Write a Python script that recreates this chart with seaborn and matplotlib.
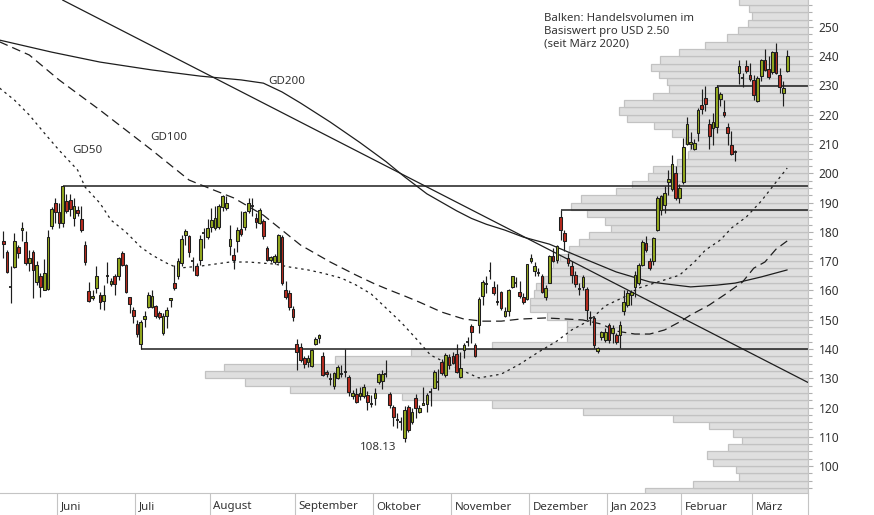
import numpy as np
import pandas as pd
import seaborn as sns
import matplotlib
matplotlib.use("Agg")
import matplotlib.pyplot as plt
import matplotlib.transforms as mtransforms

# trading days shown: 10 May 2022 .. 14 Mar 2023 (US exchange holidays removed)
holidays = ["2022-05-30", "2022-06-20", "2022-07-04", "2022-09-05", "2022-11-24",
            "2022-12-26", "2023-01-02", "2023-01-16", "2023-02-20"]
dates = pd.bdate_range("2022-05-10", "2023-03-14")
dates = dates[~dates.isin(pd.to_datetime(holidays))]

month_names = ["Juni", "Juli", "August", "September", "Oktober", "November",
               "Dezember", "Jan 2023", "Februar", "März"]

open_px = [
    176.8, 173.1, 161.3, 168.0, 174.8, 180.5, 176.5, 169.3, 173.2, 162.8,
    165.0, 160.2, 160.4, 181.9, 189.7, 186.9, 183.0, 190.6, 191.0, 184.7,
    187.5, 184.4, 175.5, 159.7, 157.4, 160.8, 158.4, 156.4, 165.0, 162.1,
    164.8, 164.8, 172.8, 168.7, 157.7, 153.4, 148.4, 141.6, 150.2, 154.5,
    154.2, 154.8, 152.2, 145.6, 151.1, 156.8, 162.5, 164.8, 169.3, 178.8,
    178.7, 170.1, 168.5, 170.3, 179.6, 178.2, 181.6, 181.3, 181.6, 188.5,
    188.2, 175.0, 172.1, 176.8, 181.0, 181.7, 187.0, 188.7, 184.7, 183.0,
    183.8, 174.5, 170.3, 169.8, 169.8, 178.4, 160.0, 159.1, 153.6, 141.7,
    140.8, 136.8, 135.4, 134.3, 141.7, 143.7, 137.6, 132.2, 129.6, 127.3,
    130.0, 131.3, 132.2, 130.5, 124.0, 124.6, 123.9, 123.9, 124.2, 121.1,
    123.3, 128.6, 129.0, 131.4, 124.6, 120.3, 115.7, 115.1, 109.7, 120.3,
    115.1, 123.1, 118.5, 120.8, 121.1, 125.4, 126.8, 128.6, 135.7, 131.1,
    137.4, 137.7, 138.3, 130.3, 139.7, 142.5, 147.9, 141.4, 148.2, 158.2,
    162.3, 166.8, 161.1, 156.2, 159.4, 151.3, 153.0, 161.0, 162.5, 159.6,
    157.9, 157.0, 169.9, 166.5, 166.1, 165.0, 157.7, 162.7, 171.6, 170.3,
    185.1, 179.6, 171.1, 168.2, 165.3, 160.4, 161.1, 160.5, 150.5, 150.5,
    139.3, 144.0, 143.1, 148.2, 145.4, 144.8, 144.8, 152.8, 155.1, 158.5,
    161.1, 162.5, 168.8, 176.2, 169.9, 170.1, 180.8, 187.6, 189.3, 197.1,
    194.5, 200.2, 191.6, 197.0, 210.1, 210.1, 208.2, 213.9, 223.3, 225.8,
    216.7, 215.6, 215.8, 225.5, 221.1, 215.9, 209.6, 207.2, 234.4, 232.6,
    236.5, 233.5, 231.8, 224.7, 233.3, 238.6, 235.8, 234.6, 241.6, 233.6,
    227.6, 235.0]
high_px = [
    180.2, 173.9, 168.2, 179.6, 175.6, 183.4, 180.2, 173.9, 173.9, 169.9,
    165.9, 170.8, 180.8, 188.5, 191.6, 189.9, 195.8, 193.1, 193.1, 191.6,
    189.0, 188.7, 176.8, 162.9, 160.2, 168.3, 159.6, 161.9, 169.6, 164.2,
    165.6, 171.4, 173.6, 169.0, 157.9, 154.5, 149.9, 149.9, 152.8, 159.3,
    160.2, 155.1, 152.8, 152.2, 154.3, 157.4, 168.8, 171.1, 179.0, 181.1,
    179.0, 171.3, 169.3, 179.0, 181.3, 184.4, 188.2, 189.0, 189.5, 192.7,
    192.2, 182.2, 174.5, 181.6, 187.0, 187.0, 191.4, 191.4, 186.5, 188.2,
    184.4, 175.0, 171.8, 172.5, 179.4, 179.0, 163.1, 160.2, 154.7, 143.3,
    142.2, 137.6, 137.9, 140.0, 144.2, 145.1, 139.1, 132.8, 131.7, 132.2,
    134.5, 134.5, 140.0, 131.1, 126.0, 126.5, 127.1, 128.2, 125.7, 124.2,
    126.5, 131.9, 132.8, 136.2, 125.4, 120.8, 118.0, 116.8, 120.5, 120.8,
    119.7, 124.5, 120.8, 127.1, 124.8, 126.5, 132.8, 133.2, 136.5, 138.7,
    138.3, 138.9, 141.7, 139.1, 142.2, 144.2, 148.6, 141.9, 157.6, 163.6,
    164.8, 169.7, 163.3, 162.3, 159.9, 154.3, 160.4, 165.0, 164.5, 163.3,
    159.1, 169.1, 172.4, 169.6, 167.6, 165.7, 161.9, 172.2, 174.5, 175.6,
    187.4, 180.8, 172.8, 169.9, 166.5, 162.5, 165.3, 161.1, 152.8, 151.1,
    140.8, 146.2, 147.1, 148.8, 148.2, 145.4, 149.7, 160.2, 160.0, 160.2,
    166.5, 169.3, 177.3, 178.5, 171.1, 178.2, 192.2, 192.7, 195.6, 201.3,
    206.1, 202.4, 196.2, 212.1, 219.3, 214.1, 211.6, 222.4, 228.9, 229.8,
    218.4, 220.7, 230.1, 227.8, 225.0, 217.1, 214.4, 207.9, 238.6, 234.4,
    238.6, 237.8, 233.5, 233.3, 239.2, 242.4, 240.1, 241.8, 244.5, 236.1,
    231.6, 242.1]
low_px = [
    171.1, 165.9, 155.6, 167.6, 171.1, 176.8, 168.8, 166.5, 157.4, 161.9,
    157.7, 160.0, 160.2, 181.0, 183.0, 181.3, 181.7, 186.5, 185.3, 181.9,
    185.5, 179.8, 168.8, 155.9, 156.6, 159.1, 153.6, 153.4, 162.5, 161.6,
    158.5, 163.6, 168.2, 159.1, 152.2, 148.8, 144.2, 140.0, 147.6, 153.9,
    153.9, 150.5, 150.2, 144.8, 147.1, 154.3, 160.2, 163.9, 168.2, 175.6,
    171.4, 166.5, 164.8, 168.8, 174.5, 177.6, 179.8, 180.8, 181.0, 187.0,
    187.4, 172.2, 167.3, 173.0, 178.7, 180.8, 186.5, 185.3, 181.3, 182.7,
    177.6, 169.9, 169.6, 169.0, 169.5, 161.9, 157.0, 153.4, 149.4, 132.8,
    135.7, 133.4, 134.0, 134.0, 141.4, 141.9, 130.8, 130.5, 127.7, 126.2,
    129.6, 130.4, 130.5, 123.9, 122.8, 121.7, 122.5, 123.4, 119.3, 120.2,
    120.9, 128.2, 126.2, 130.5, 120.0, 113.6, 113.0, 112.3, 108.13, 111.7,
    114.5, 116.3, 118.0, 120.8, 118.5, 120.5, 126.5, 126.0, 131.1, 130.5,
    133.0, 134.9, 131.7, 130.0, 136.8, 141.1, 141.9, 137.4, 145.4, 155.1,
    159.1, 163.9, 158.5, 155.1, 153.4, 150.8, 151.1, 160.7, 161.3, 157.4,
    155.4, 156.6, 169.3, 164.8, 164.8, 159.1, 156.8, 162.5, 169.6, 169.3,
    177.3, 173.3, 168.2, 162.5, 161.3, 158.5, 160.2, 149.9, 148.2, 140.2,
    138.7, 143.1, 142.5, 141.9, 141.9, 141.7, 140.2, 151.6, 154.5, 155.1,
    157.9, 161.9, 168.2, 173.0, 167.1, 168.8, 180.2, 185.9, 186.5, 192.7,
    193.9, 191.0, 189.7, 196.2, 209.5, 208.2, 207.9, 211.0, 220.1, 221.3,
    208.2, 209.6, 213.9, 223.0, 219.3, 209.6, 206.1, 204.2, 230.4, 229.6,
    234.4, 231.6, 225.0, 224.4, 231.6, 235.0, 232.1, 233.8, 233.8, 227.3,
    223.0, 234.6]
close_px = [
    176.0, 166.3, 161.3, 177.0, 172.8, 181.3, 169.3, 171.1, 167.1, 168.7,
    161.3, 166.1, 178.2, 187.8, 186.7, 183.0, 195.8, 187.0, 187.9, 188.7,
    186.5, 180.5, 169.7, 156.4, 158.2, 164.9, 156.0, 158.4, 165.0, 163.3,
    162.1, 171.1, 168.8, 159.6, 155.3, 151.4, 145.0, 149.1, 151.1, 158.5,
    158.2, 151.4, 150.8, 151.3, 153.2, 157.4, 160.8, 169.9, 177.6, 180.4,
    173.0, 170.1, 165.1, 177.6, 179.6, 181.3, 184.2, 184.7, 188.7, 192.2,
    189.7, 177.6, 170.5, 180.8, 179.3, 186.8, 189.9, 188.7, 183.3, 187.6,
    178.5, 170.5, 171.4, 171.8, 179.0, 162.6, 157.9, 154.5, 150.8, 139.1,
    136.2, 134.7, 137.0, 139.7, 143.4, 144.8, 131.1, 131.3, 129.6, 131.7,
    133.7, 131.3, 132.2, 125.4, 125.0, 122.0, 125.0, 127.1, 122.0, 121.1,
    124.8, 131.4, 131.4, 131.4, 120.8, 116.8, 115.7, 115.1, 119.3, 112.3,
    118.3, 119.7, 120.0, 121.4, 124.2, 125.4, 132.2, 128.6, 131.7, 137.9,
    134.5, 135.3, 132.0, 133.6, 141.4, 142.5, 145.9, 137.7, 157.1, 162.8,
    162.3, 166.8, 159.1, 156.2, 153.9, 153.0, 160.2, 164.8, 162.5, 158.2,
    156.2, 168.9, 171.1, 168.4, 166.1, 159.6, 160.8, 171.6, 169.9, 175.0,
    180.8, 176.8, 169.3, 165.3, 162.3, 160.4, 164.5, 153.4, 150.5, 141.4,
    140.2, 145.7, 145.9, 143.1, 147.1, 142.5, 148.2, 156.2, 159.1, 159.6,
    165.3, 168.8, 176.5, 173.7, 167.6, 177.9, 191.6, 192.2, 193.3, 197.9,
    203.2, 191.6, 195.0, 209.1, 216.9, 210.7, 210.4, 221.5, 221.8, 223.6,
    212.7, 217.6, 229.5, 227.0, 219.9, 213.9, 206.7, 207.2, 236.5, 232.6,
    235.0, 232.1, 226.8, 232.7, 238.6, 235.3, 233.0, 241.6, 234.4, 229.6,
    229.3, 240.1]

# moving averages at sample days
gd50_day = [-1, 3, 7, 11, 15, 20, 22, 26, 29, 33, 37, 40, 44, 47, 53, 61, 66, 73, 77, 82,
            86, 91, 95, 99, 103, 107, 111, 115, 120, 125, 128, 134, 139, 144, 149, 153, 158,
            162, 167, 171, 177, 182, 186, 189, 193, 196, 200, 204, 208, 211]
gd50_val = [229.1, 225.0, 219.9, 213.8, 207.9, 201.1, 195.3, 189.8, 184.0, 179.9,
            174.8, 172.1, 169.3, 167.6, 168.3, 169.7, 169.7, 169.0, 168.0, 167.0,
            165.9, 164.2, 161.8, 158.8, 154.0, 149.2, 143.7, 137.9, 134.8, 131.8,
            130.1, 131.4, 134.8, 138.9, 142.7, 146.5, 149.9, 154.7, 157.7, 160.8,
            163.2, 165.2, 169.7, 173.8, 177.2, 181.3, 185.1, 190.5, 197.0, 201.8]
gd100_day = [-1, 7, 15, 26, 40, 50, 56, 62, 70, 75, 80, 88, 95, 100, 104, 108, 112, 118,
             124, 129, 134, 139, 146, 152, 156, 161, 165, 170, 174, 178, 182, 185, 190,
             194, 199, 202, 205, 208, 211]
gd100_val = [244.9, 240.4, 231.9, 221.6, 207.9, 197.7, 194.6, 191.6, 185.7, 180.6,
             175.5, 169.7, 165.2, 162.2, 160.1, 158.1, 156.0, 152.6, 150.2, 149.5,
             149.5, 150.2, 150.6, 150.2, 149.9, 148.5, 146.1, 145.1, 145.1, 146.5,
             149.2, 151.6, 155.0, 158.4, 162.9, 167.6, 169.7, 174.1, 176.9]
gd200_day = [-1, 13, 26, 40, 53, 64, 70, 75, 80, 88, 96, 103, 108, 114, 122, 126, 130,
             135, 140, 147, 156, 165, 174, 181, 185, 192, 197, 204, 211]
gd200_val = [245.5, 241.4, 238.0, 235.3, 233.2, 231.9, 230.8, 227.8, 224.0, 217.5,
             210.5, 204.0, 198.8, 193.0, 187.2, 184.6, 182.6, 180.6, 178.2, 175.8,
             171.0, 166.3, 162.9, 161.8, 161.2, 161.8, 162.5, 164.6, 167.0]

# falling trend line (two anchor points) and horizontal marks (day, level)
trend_day = [17, 211]
trend_val = [258.5, 132.2]
level_day = [16, 150, 37, 192]
level_val = [195.8, 187.4, 140.0, 229.9]

# volume profile, one bar per USD 2.50 (bar starts at price)
vol_price = [90.0, 92.5, 95.0, 97.5, 100.0, 102.5, 105.0, 107.5, 110.0, 112.5,
             115.0, 117.5, 120.0, 122.5, 125.0, 127.5, 130.0, 132.5, 135.0, 137.5,
             140.0, 142.5, 145.0, 147.5, 150.0, 152.5, 155.0, 157.5, 160.0, 162.5,
             165.0, 167.5, 170.0, 172.5, 175.0, 177.5, 180.0, 182.5, 185.0, 187.5,
             190.0, 192.5, 195.0, 197.5, 200.0, 202.5, 205.0, 207.5, 210.0, 212.5,
             215.0, 217.5, 220.0, 222.5, 225.0, 227.5, 230.0, 232.5, 235.0, 237.5,
             240.0, 242.5, 245.0, 247.5, 250.0, 252.5, 255.0, 257.5]
vol_size = [163, 115, 69, 72, 95, 101, 80, 66, 75, 99,
            135, 225, 316, 406, 518, 563, 603, 584, 473, 397,
            316, 241, 241, 241, 261, 278, 278, 274, 272, 264,
            259, 255, 248, 239, 229, 219, 197, 203, 221, 237,
            227, 192, 176, 160, 155, 131, 120, 118, 123, 136,
            154, 181, 189, 184, 155, 139, 141, 149, 157, 148,
            129, 103, 81, 70, 60, 56, 59, 69]

sns.set_theme(style="white")
plt.rcParams["font.family"] = ["Noto Sans", "DejaVu Sans"]

ink = "#1e1e1e"
txt = "#333333"
axis_grey = "#c4c4c4"
green = "#93a81e"
red = "#b52b1f"

fig = plt.figure(figsize=(8.74, 5.15), dpi=100)
ax = fig.add_axes([0, 22 / 515, 808 / 874, 493 / 515])
ax_vol = ax.twiny()
ax.set_zorder(ax_vol.get_zorder() + 1)
ax.patch.set_visible(False)

ax_vol.barh(vol_price, vol_size, height=2.5, align="edge", color="#dfdfdf",
            edgecolor="#c2c2c2", linewidth=0.9)
ax_vol.set_xlim(808, 0)
ax_vol.axis("off")

x = np.arange(len(close_px))
o = np.array(open_px)
h = np.array(high_px)
l = np.array(low_px)
c = np.array(close_px)
up = c > o
down = c < o
flat = c == o

ax.vlines(x, l, h, color=ink, linewidth=0.85, zorder=3)
ax.bar(x[up], c[up] - o[up], bottom=o[up], width=0.72, color=green,
       edgecolor=ink, linewidth=0.75, zorder=4)
ax.bar(x[down], o[down] - c[down], bottom=c[down], width=0.72, color=red,
       edgecolor=ink, linewidth=0.75, zorder=4)
ax.hlines(c[flat], x[flat] - 0.4, x[flat] + 0.4, color=ink, linewidth=1.3, zorder=4)

sns.lineplot(x=gd50_day, y=gd50_val, ax=ax, color=ink, linewidth=0.9,
             linestyle=(0, (2, 3)), zorder=2)
sns.lineplot(x=gd100_day, y=gd100_val, ax=ax, color=ink, linewidth=0.9,
             linestyle=(0, (7, 4)), zorder=2)
sns.lineplot(x=gd200_day, y=gd200_val, ax=ax, color=ink, linewidth=0.9, zorder=2)
ax.axline((trend_day[0], trend_val[0]), (trend_day[1], trend_val[1]),
          color=ink, linewidth=0.9, zorder=2)

ax.set_xlim(-0.9, 216.6)
ax.set_ylim(90.8, 259.2)
ax.hlines(level_val, level_day, ax.get_xlim()[1], color=ink, linewidth=1.1, zorder=2)

# annotations
ax.text(22.5, 207.9, "GD50", ha="center", va="center", fontsize=8.3, color=txt)
ax.text(44.6, 212.4, "GD100", ha="center", va="center", fontsize=8.3, color=txt)
ax.text(76.3, 231.2, "GD200", ha="center", va="center", fontsize=8.3, color=txt)
ax.text(100.8, 106.4, "108.13", ha="center", va="center", fontsize=8.3, color=txt)
ax.text(145.5, 254.6, "Balken: Handelsvolumen im\nBasiswert pro USD 2.50\n(seit März 2020)",
        ha="left", va="top", fontsize=8.2, color=txt)

# y axis on the right
ax.yaxis.tick_right()
ax.set_yticks(np.arange(100, 251, 10))
ax.set_yticks(np.arange(92.5, 259, 2.5), minor=True)
ax.tick_params(axis="y", which="major", length=3.6, width=0.8, color="#b0b0b0",
               pad=4, labelsize=8.6, labelcolor=txt)
ax.tick_params(axis="y", which="minor", length=2.8, width=0.8, color="#b0b0b0")

# month separators below the plot
per = dates.to_period("M")
month_start = np.flatnonzero(per[1:] != per[:-1]) + 1
ax.set_xticks(month_start - 0.5)
ax.set_xticklabels([])
ax.tick_params(axis="x", which="major", length=15.8, width=0.8, color=axis_grey,
               direction="out", bottom=True)
trans = mtransforms.blended_transform_factory(ax.transData, ax.transAxes)
for start, name in zip(month_start, month_names):
    ax.text(start + 0.5, -14 / 493, name, transform=trans, ha="left", va="center",
            fontsize=8.3, color=txt)

for side in ["top", "left"]:
    ax.spines[side].set_visible(False)
for side in ["bottom", "right"]:
    ax.spines[side].set_color(axis_grey)
    ax.spines[side].set_linewidth(0.8)
ax.plot([1, 1], [-22 / 493, 0], transform=ax.transAxes, color=axis_grey,
        linewidth=0.8, clip_on=False)
ax.set_xlabel("")
ax.set_ylabel("")

fig.savefig("out.png", dpi=100)
